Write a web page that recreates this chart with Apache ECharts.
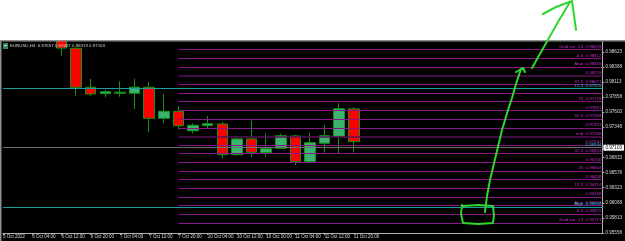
<!DOCTYPE html>
<html><head><meta charset="utf-8">
<script src="https://cdn.jsdelivr.net/npm/echarts@6/dist/echarts.min.js"></script>
<style>html,body{margin:0;padding:0;background:#fff}#c{width:625px;height:241px}</style>
</head><body><div id="c"></div>
<script>
// ---- data ----
const times = ['5 Oct 2022','6 Oct 00:00','6 Oct 04:00','6 Oct 08:00','6 Oct 12:00','6 Oct 16:00','6 Oct 20:00',
  '7 Oct 00:00','7 Oct 04:00','7 Oct 08:00','7 Oct 12:00','7 Oct 16:00','7 Oct 20:00',
  '10 Oct 00:00','10 Oct 04:00','10 Oct 08:00','10 Oct 12:00','10 Oct 16:00','10 Oct 20:00',
  '11 Oct 00:00','11 Oct 04:00','11 Oct 08:00','11 Oct 12:00','11 Oct 16:00','11 Oct 20:00'];
const futureSlots = 17;
const opens  = [0.99010,0.99070,0.99000,0.98900,0.98950,0.98683,0.98023,0.97914,0.97921,0.97921,0.98023,0.97498,0.97616,0.97286,0.97373,0.97401,0.96882,0.97148,0.96916,0.96990,0.97198,0.96763,0.97075,0.97193,0.97657];
const highs  = [0.99120,0.99140,0.99050,0.99000,0.99060,0.98700,0.98163,0.97977,0.98124,0.98168,0.98112,0.97909,0.97698,0.97413,0.97537,0.97435,0.97186,0.97457,0.97244,0.97237,0.97215,0.97254,0.97384,0.97752,0.97687];
const lows   = [0.98950,0.98960,0.98850,0.98800,0.98555,0.97880,0.97880,0.97853,0.97863,0.97655,0.97261,0.97413,0.97305,0.97244,0.97320,0.96821,0.96860,0.96848,0.96848,0.96973,0.96707,0.96746,0.96916,0.96905,0.96919];
const closes = [0.99070,0.99000,0.98900,0.98950,0.98686,0.98023,0.97909,0.97948,0.97938,0.98023,0.97498,0.97616,0.97373,0.97379,0.97407,0.96882,0.97148,0.96922,0.96983,0.97203,0.96763,0.97085,0.97203,0.97660,0.97103];
const yTicks = [0.98623,0.98368,0.98113,0.97858,0.97603,0.97348,0.96833,0.96578,0.96323,0.96068,0.95813,0.95558];
const levelValues = [0.98659,0.98512,0.98365,0.98218,0.98071,0.97925,0.97778,0.97631,0.97484,0.97337,0.97186,0.97042,0.96903,0.96750,0.96604,0.96458,0.96314,0.96168,0.96023,0.95875,0.95721];
const levelNames  = ['Gold sar -13  0.98659','-6.5  0.98512','Algo  0.98365','0.98218','87.5  0.98071','','75  0.97778','0.97631','62.5  0.97484','0.97337','mid  0.97186','0.97042','37.5  0.96903','0.96750','25  0.96604','0.96458','12.5  0.96314','0.96168','Algo  0.96023','-6.5  0.95875','Gold sar -13  0.95721'];
const levelDark = [3, 10];
const levelStartIndex = 12;
const tealValues = [0.97938, 0.96944, 0.95958];
const tealNames  = ['12.5  0.97925', '0.96944', 'Algo  0.95958'];
const lastPrice = 0.97103;
const titleText = 'EURUSD,H4  0.97657 0.97687 0.96919 0.97103';

// ---- build ----
const cats = times.slice();
for (let i = 1; i <= futureSlots; i++) cats.push('+' + i);
const candles = opens.map((o, i) => [o, closes[i], lows[i], highs[i]]);
const FONT = 'Liberation Sans';
const lastIdx = cats.length - 1;

const levelLines = levelValues.map((v, i) => [
  { coord: [levelStartIndex, v],
    lineStyle: { color: levelDark.includes(i) ? '#5a0f5a' : '#8a168a', width: levelDark.includes(i) ? 1.6 : 1.2, type: 'solid' },
    label: { show: levelNames[i] !== '', formatter: levelNames[i] } },
  { coord: [lastIdx, v] }
]);
const tealLines = tealValues.map((v, i) => ({
  yAxis: v, lineStyle: { color: '#1a9e9e', width: 1.2, type: 'solid' },
  label: { show: true, position: 'insideEndTop', formatter: tealNames[i], color: '#22c0c0', fontSize: 4.4, fontFamily: FONT, distance: 1 }
}));

const chart = echarts.init(document.getElementById('c'), null, { renderer: 'canvas' });
chart.setOption({
  animation: false,
  backgroundColor: '#ffffff',
  grid: { left: 2, right: 22, top: 42, bottom: 8 },
  xAxis: {
    type: 'category', data: cats, boundaryGap: false,
    axisLine: { lineStyle: { color: '#b0b0b0', width: 1 } },
    axisTick: { show: true, length: 2, lineStyle: { color: '#b0b0b0' },
      interval: (i, v) => i % 2 === 0 && !String(v).startsWith('+') },
    axisLabel: { interval: (i, v) => i % 2 === 0 && !String(v).startsWith('+'),
      formatter: v => String(v).startsWith('+') ? '' : v,
      color: '#d8d8d8', fontSize: 4.5, fontFamily: FONT, align: 'left', margin: 1 },
    splitLine: { show: false }
  },
  yAxis: {
    type: 'value', position: 'right', min: 0.95556, max: 0.98789, scale: true,
    axisLine: { show: true, lineStyle: { color: '#b0b0b0', width: 1 } },
    axisTick: { show: true, length: 2, customValues: yTicks, lineStyle: { color: '#b0b0b0' } },
    axisLabel: { customValues: yTicks, formatter: v => v.toFixed(5), color: '#d8d8d8', fontSize: 4.6, fontFamily: FONT, margin: 3 },
    splitLine: { show: false }
  },
  series: [
    {
      type: 'line', data: [], z: 1, silent: true,
      markLine: {
        silent: true, symbol: 'none', animation: false,
        label: { position: 'insideEndTop', color: '#c531c5', fontSize: 4.4, fontFamily: FONT, distance: 1 },
        data: levelLines.concat(tealLines).concat([{
          yAxis: lastPrice, lineStyle: { color: '#6e6e6e', width: 1.2, type: 'solid' },
          label: { show: true, position: 'end', formatter: lastPrice.toFixed(5), color: '#000', backgroundColor: '#fff',
            padding: [1, 2, 0, 2], fontSize: 4.6, fontFamily: FONT, distance: 1 }
        }])
      }
    },
    {
      type: 'candlestick', data: candles, z: 3, clip: true, barWidth: 11,
      itemStyle: { color: '#3cb371', color0: '#ff0000', borderColor: '#139413', borderColor0: '#139413', borderWidth: 1 }
    }
  ],
  graphic: [
    { type: 'rect', z: -10, shape: { x: 0, y: 41, width: 625, height: 200 }, style: { fill: '#000' } },
    // white strip above the chart window (hides the part of candles above the visible price range)
    { type: 'rect', z: 90, shape: { x: 0, y: 0, width: 625, height: 40 }, style: { fill: '#fff' } },
    { type: 'rect', z: 91, shape: { x: 0, y: 40, width: 625, height: 1.6 }, style: { fill: '#8e8e8e' } },
    { type: 'rect', z: 91, shape: { x: 0, y: 40, width: 1.5, height: 201 }, style: { fill: '#8e8e8e' } },
    { type: 'rect', z: 92, shape: { x: 3, y: 43, width: 5, height: 6 }, style: { fill: '#2e8b57' } },
    { type: 'rect', z: 93, shape: { x: 4.3, y: 45, width: 2.4, height: 0.9 }, style: { fill: '#fff' } },
    { type: 'text', z: 92, x: 10, y: 44, style: { text: titleText, fill: '#cfcfcf', fontSize: 4.4, fontFamily: FONT } },
    // hand-drawn annotation
    { type: 'polyline', z: 100, shape: { points: [[463,206],[478,205],[493,206],[494,215],[493,223],[478,224],[463,223],[461,214],[462,205]] },
      style: { stroke: '#2fd62f', lineWidth: 2, fill: null, lineJoin: 'round', lineCap: 'round' } },
    { type: 'polyline', z: 100, shape: { points: [[485,212],[487,196],[490,180],[496,155],[502,130],[508,110],[512,98],[516,84],[521,69]] },
      style: { stroke: '#2fd62f', lineWidth: 2, fill: null, lineJoin: 'round', lineCap: 'round' } },
    { type: 'polyline', z: 100, shape: { points: [[516,72],[523,68],[525,72]] },
      style: { stroke: '#2fd62f', lineWidth: 2, fill: null, lineJoin: 'round', lineCap: 'round' } },
    { type: 'polyline', z: 100, shape: { points: [[532,68],[545,45],[558,22],[570,2]] },
      style: { stroke: '#2fd62f', lineWidth: 2, fill: null, lineJoin: 'round', lineCap: 'round' } },
    { type: 'polyline', z: 100, shape: { points: [[543,14],[556,7],[572,1],[574,15],[576,30]] },
      style: { stroke: '#2fd62f', lineWidth: 2, fill: null, lineJoin: 'round', lineCap: 'round' } }
  ]
});
</script></body></html>
